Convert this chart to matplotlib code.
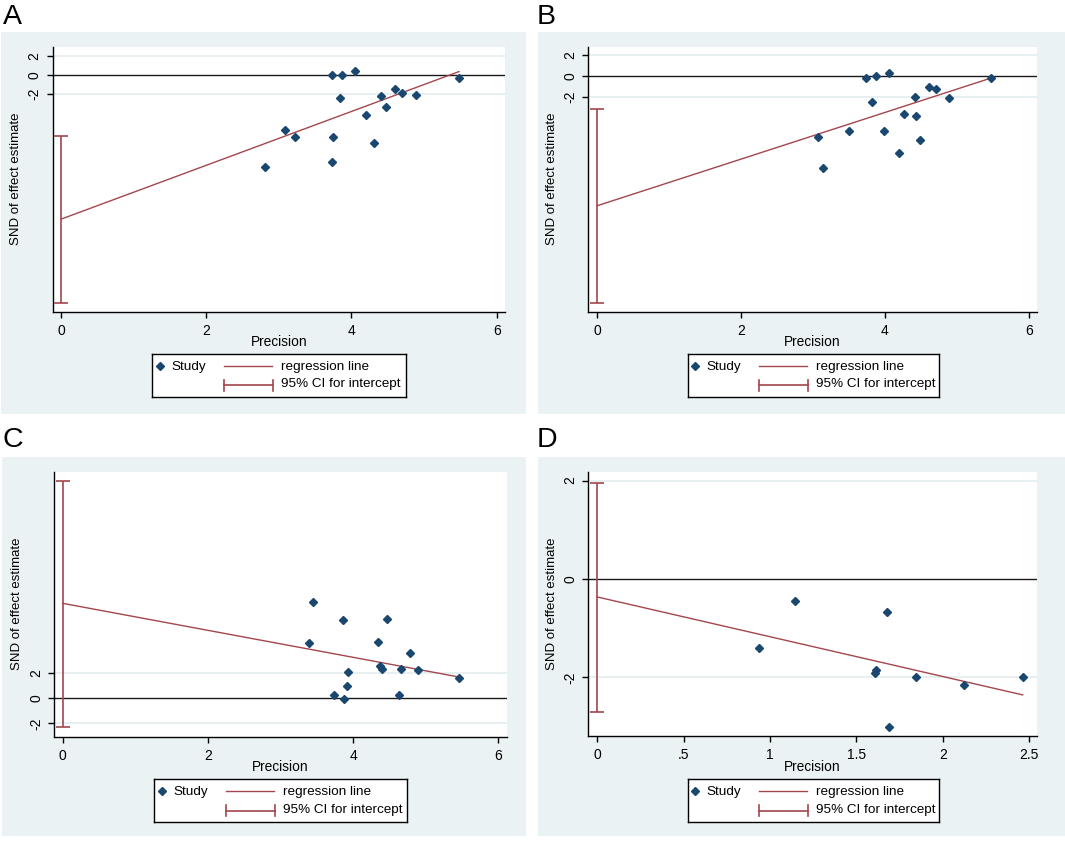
import numpy as np
import matplotlib
matplotlib.use("Agg")
import matplotlib.pyplot as plt
from matplotlib.patches import Rectangle

plt.rcParams['font.family'] = ['Liberation Sans', 'DejaVu Sans']

# ---------------- data ----------------
a_prec = [3.737, 3.875, 4.054, 5.481, 4.600, 4.692, 4.885, 4.403, 3.842,
          4.481, 4.205, 3.085, 3.218, 3.751, 4.311, 3.737, 2.814]
a_snd = [0.02, 0.02, 0.40, -0.30, -1.48, -1.83, -2.03, -2.17, -2.38,
         -3.32, -4.16, -5.76, -6.45, -6.49, -7.08, -9.06, -9.62]
a_intercept, a_slope = -15.04, 2.81
a_ci = [-23.77, -6.35]

b_prec = [3.74, 3.87, 4.05, 5.48, 4.61, 4.71, 4.89, 4.42, 3.82,
          4.27, 4.43, 3.99, 3.50, 3.07, 4.49, 4.19, 3.14]
b_snd = [-0.16, 0.03, 0.25, -0.16, -1.02, -1.24, -2.06, -2.00, -2.51,
         -3.59, -3.78, -5.27, -5.27, -5.81, -6.13, -7.30, -8.79]
b_intercept, b_slope = -12.35, 2.22
b_ci = [-21.59, -3.17]

c_prec = [3.452, 3.856, 4.467, 3.393, 4.343, 4.788, 4.375, 4.393, 4.664,
          4.889, 5.454, 3.934, 3.916, 3.737, 3.875, 4.632]
c_snd = [7.71, 6.27, 6.37, 4.43, 4.51, 3.63, 2.56, 2.37, 2.37,
         2.27, 1.65, 2.11, 1.01, 0.29, -0.05, 0.29]
c_intercept, c_slope = 7.60, -1.08
c_ci = [-2.32, 17.39]

d_prec = [1.145, 1.676, 0.936, 1.614, 1.606, 1.846, 2.122, 2.463, 1.687]
d_snd = [-0.447, -0.67, -1.41, -1.85, -1.92, -2.00, -2.16, -2.00, -3.00]
d_intercept, d_slope = -0.365, -0.808
d_ci = [-2.70, 1.96]

panel_letters = ["A", "B", "C", "D"]
xtick_vals_6 = [0, 2, 4, 6]
xtick_labels_6 = ["0", "2", "4", "6"]
xtick_vals_d = [0, 0.5, 1, 1.5, 2, 2.5]
xtick_labels_d = ["0", ".5", "1", "1.5", "2", "2.5"]
ytick_vals = [-2, 0, 2]
ytick_labels = ["-2", "0", "2"]
legend_labels = ["Study", "regression line", "95% CI for intercept"]
xlabel_text = "Precision"
ylabel_text = "SND of effect estimate"

# ---------------- style ----------------
W, H = 1065, 841
BG = "#EAF2F3"
GRID = "#E3ECEF"
NAVY = "#1A476F"
MAROON = "#A3464E"

fig = plt.figure(figsize=(W / 100, H / 100), dpi=100)
fig.patch.set_facecolor("white")


def fbox(x0, y0, x1, y1):
    return [x0 / W, 1 - y1 / H, (x1 - x0) / W, (y1 - y0) / H]


panels = [
    dict(prec=a_prec, snd=a_snd, icpt=a_intercept, slope=a_slope, ci=a_ci,
         bg=(1, 32, 526, 414), ax=(52.7, 46.7, 505.0, 311.7),
         leg=(152.3, 354, 405.7, 396.7), lab=(3, 4),
         xlim=(-0.115, 6.115), ylim=(-24.7, 2.96),
         xt=xtick_vals_6, xtl=xtick_labels_6),
    dict(prec=b_prec, snd=b_snd, icpt=b_intercept, slope=b_slope, ci=b_ci,
         bg=(538, 32, 1065, 414), ax=(588.3, 46.7, 1036.7, 311.7),
         leg=(687.7, 354, 939.0, 396.7), lab=(537, 4),
         xlim=(-0.125, 6.11), ylim=(-22.44, 2.79),
         xt=xtick_vals_6, xtl=xtick_labels_6),
    dict(prec=c_prec, snd=c_snd, icpt=c_intercept, slope=c_slope, ci=c_ci,
         bg=(2, 457, 526, 836), ax=(54.3, 471.7, 506.7, 736.7),
         leg=(154.3, 779, 407.3, 821.7), lab=(3, 427),
         xlim=(-0.115, 6.115), ylim=(-3.07, 18.13),
         xt=xtick_vals_6, xtl=xtick_labels_6),
    dict(prec=d_prec, snd=d_snd, icpt=d_intercept, slope=d_slope, ci=d_ci,
         bg=(538, 457, 1065, 836), ax=(588.3, 471.7, 1036.7, 736.0),
         leg=(687.7, 779, 939.0, 821.7), lab=(537, 427),
         xlim=(-0.052, 2.544), ylim=(-3.19, 2.18),
         xt=xtick_vals_d, xtl=xtick_labels_d),
]

for letter, p in zip(panel_letters, panels):
    x0, y0, x1, y1 = p["bg"]
    fig.patches.append(Rectangle((x0 / W, 1 - y1 / H), (x1 - x0) / W, (y1 - y0) / H,
                                 transform=fig.transFigure, facecolor=BG,
                                 edgecolor="none", zorder=-10))
    fig.text(p["lab"][0] / W, 1 - p["lab"][1] / H, letter, fontsize=20.5,
             ha="left", va="top", color="black")

    ax = fig.add_axes(fbox(*p["ax"]))
    ax.set_zorder(1)
    ax.set_facecolor("white")
    ax.set_xlim(*p["xlim"])
    ax.set_ylim(*p["ylim"])
    for s in ("top", "right"):
        ax.spines[s].set_visible(False)
    for s in ("left", "bottom"):
        ax.spines[s].set_color("black")
        ax.spines[s].set_linewidth(1.0)

    # gridlines at y ticks
    for yv in ytick_vals:
        if yv != 0:
            ax.axhline(yv, color=GRID, lw=1.2, zorder=1)
    ax.axhline(0, color="#1a1a1a", lw=1.0, zorder=2)

    # regression line from 0 to max precision
    xs = np.array([0.0, max(p["prec"])])
    ax.plot(xs, p["icpt"] + p["slope"] * xs, color=MAROON, lw=1.0, zorder=3)

    # CI for intercept
    ax.errorbar([0], [p["icpt"]],
                yerr=[[p["icpt"] - p["ci"][0]], [p["ci"][1] - p["icpt"]]],
                fmt="none", ecolor=MAROON, elinewidth=1.2, capsize=5.3,
                capthick=1.2, zorder=3)

    ax.plot(p["prec"], p["snd"], linestyle="none", marker="D", markersize=3.6,
            color=NAVY, markeredgecolor=NAVY, zorder=4)

    ax.set_xticks(p["xt"])
    ax.set_xticklabels(p["xtl"])
    ax.set_yticks(ytick_vals)
    ax.set_yticklabels(ytick_labels)
    ax.tick_params(axis="both", direction="out", length=4, width=1,
                   color="black", labelsize=10, labelcolor="black")
    ax.tick_params(axis="x", pad=4.5)
    ax.tick_params(axis="y", pad=4, labelrotation=90)
    for t in ax.get_yticklabels():
        t.set_va("center")

    ax.set_xlabel(xlabel_text, fontsize=9.9, labelpad=-1.5)
    ax.set_ylabel(ylabel_text, fontsize=9.5)
    ax.yaxis.set_label_coords(-0.0685, 0.5)

    # legend box drawn in its own small axes (pixel units)
    lx0, ly0, lx1, ly1 = p["leg"]
    lw_, lh_ = lx1 - lx0, ly1 - ly0
    lax = fig.add_axes(fbox(lx0, ly0, lx1, ly1))
    lax.set_zorder(1)
    lax.set_xlim(0, lw_)
    lax.set_ylim(lh_, 0)
    lax.set_xticks([])
    lax.set_yticks([])
    lax.set_facecolor("white")
    for s in lax.spines.values():
        s.set_color("black")
        s.set_linewidth(1.0)
    lax.plot([7.7], [12.0], marker="D", markersize=3.6, color=NAVY,
             linestyle="none")
    lax.text(18.7, 12.7, legend_labels[0], fontsize=9.7, va="center", ha="left")
    lax.plot([71.7, 119.4], [12.0, 12.0], color=MAROON, lw=1.0)
    lax.text(128.7, 12.7, legend_labels[1], fontsize=9.7, va="center", ha="left")
    lax.plot([71.7, 120.4], [31.5, 31.5], color=MAROON, lw=1.2)
    lax.plot([71.7, 71.7], [26.0, 36.7], color=MAROON, lw=1.2)
    lax.plot([120.4, 120.4], [26.0, 36.7], color=MAROON, lw=1.2)
    lax.text(128.7, 30.5, legend_labels[2], fontsize=9.7, va="center", ha="left")

fig.savefig("out.png", dpi=100)
